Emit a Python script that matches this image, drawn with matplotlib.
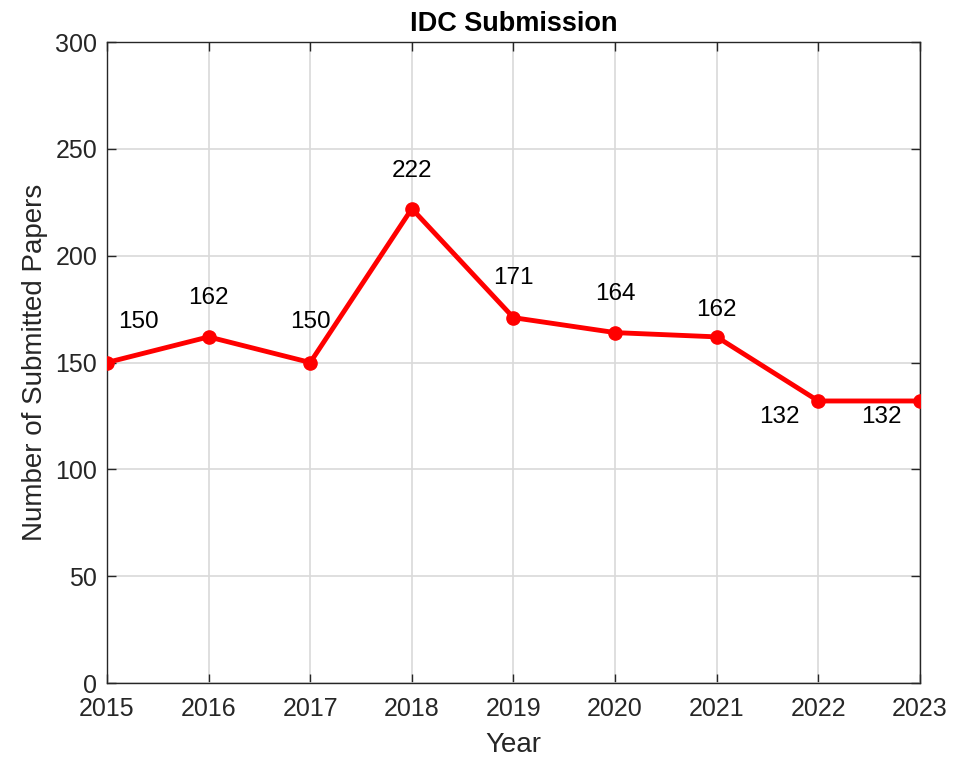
import matplotlib.pyplot as plt

plt.rcParams['font.family'] = ['Liberation Sans', 'DejaVu Sans']

years = [2015, 2016, 2017, 2018, 2019, 2020, 2021, 2022, 2023]
papers = [150, 162, 150, 222, 171, 164, 162, 132, 132]
# label offsets in pixels (dx, dy)
offsets = [(31, 41), (0, 39), (0, 41), (0, 38), (0, 40), (0, 39), (0, 27), (-39, -16), (-39, -16)]

fig = plt.figure(figsize=(9.62, 7.6), dpi=100)
ax = fig.add_axes([0.1112, 0.1013, 0.8451, 0.8434])

ax.plot(years, papers, color='red', lw=3.5, marker='o', ms=9.5, zorder=3)
for x, y, (dx, dy) in zip(years, papers, offsets):
    ax.annotate(str(y), (x, y), xytext=(dx, dy), textcoords='offset pixels',
                ha='center', va='center', fontsize=17.5)

ax.set_xlim(2015, 2023)
ax.set_ylim(0, 300)
ax.set_xticks(years)
ax.set_yticks(range(0, 301, 50))
ax.grid(True, color='#d9d9d9', lw=1.2)
ax.set_axisbelow(True)
ax.tick_params(direction='in', labelsize=18, top=True, right=True, length=6.5,
               width=1, colors='#262626')
ax.tick_params(axis='y', pad=7)
ax.tick_params(axis='x', pad=10)
for s in ax.spines.values():
    s.set_color('#262626')
    s.set_linewidth(1)
ax.set_xlabel('Year', fontsize=20, color='#262626', labelpad=8)
ax.set_ylabel('Number of Submitted Papers', fontsize=20, color='#262626', labelpad=5)
ax.set_title('IDC Submission', fontsize=19.5, fontweight='bold', pad=8)

fig.savefig('out.png', dpi=100)
